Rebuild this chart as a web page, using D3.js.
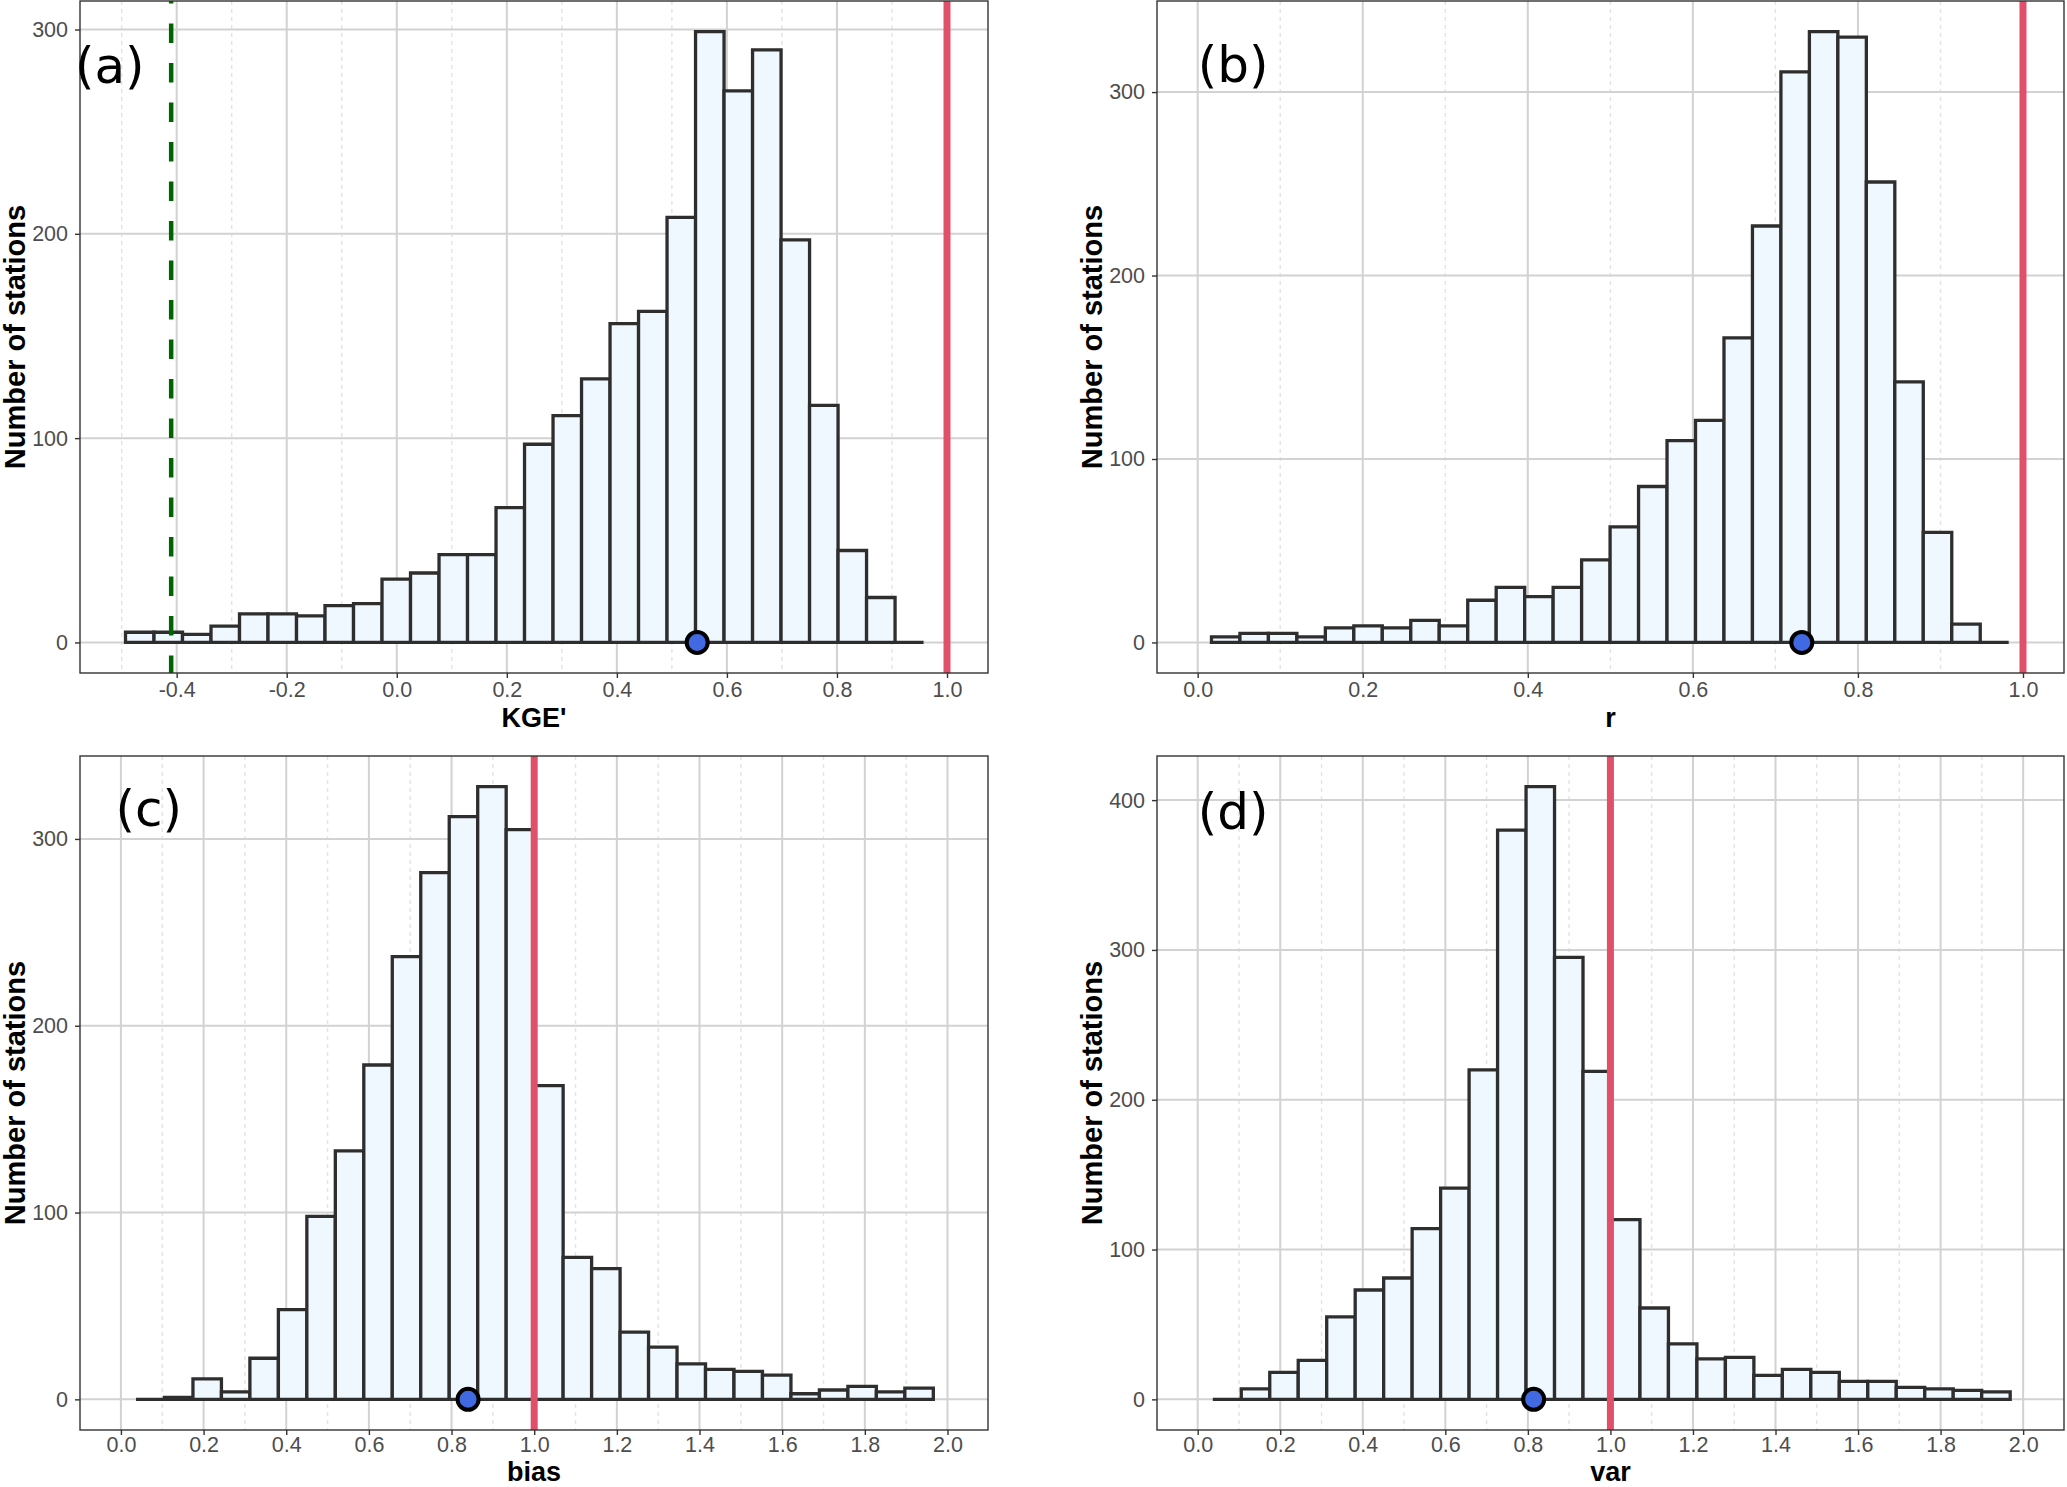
<!DOCTYPE html>
<meta charset="utf-8" />

<!-- Load d3.js -->
<script src="https://d3js.org/d3.v7.min.js"></script>
<style>
  body { margin: 0; background: #fff; }
</style>

<div id="my_dataviz"></div>

<script>
  // ---- values ----
  // histogram counts per bin, bin = [first edge, width]
  const kgeCounts = [5, 5, 4, 8, 14, 14, 13, 18, 19, 31, 34, 43, 43, 66, 97, 111, 129, 156, 162, 208, 299, 270, 290, 197, 116, 45, 22, 0];
  const kgeBin = [-0.493, 0.0518];
  const rCounts = [3, 5, 5, 3, 8, 9, 8, 12, 9, 23, 30, 25, 30, 45, 63, 85, 110, 121, 166, 227, 311, 333, 330, 251, 142, 60, 10, 0];
  const rBin = [0.0167, 0.0345];
  const biasCounts = [0, 1, 11, 4, 22, 48, 98, 133, 179, 237, 282, 312, 328, 305, 168, 76, 70, 36, 28, 19, 16, 15, 13, 3, 5, 7, 4, 6];
  const biasBin = [0.0365, 0.0689];
  const varCounts = [0, 7, 18, 26, 55, 73, 81, 114, 141, 220, 380, 409, 295, 219, 120, 61, 37, 27, 28, 16, 20, 18, 12, 12, 8, 7, 6, 5];
  const varBin = [0.0366, 0.069];

  // medians (blue dots) and reference lines
  const medians = [0.546, 0.732, 0.84, 0.814];
  const idealValue = 1.0;
  const benchmarkKge = -0.41;

  // axis titles, panel letters, ticks and limits
  const xTitles = ["KGE'", 'r', 'bias', 'var'];
  const letters = ['(a)', '(b)', '(c)', '(d)'];
  const letterPos = [[-0.585, 282], [0.0, 315], [-0.013, 316], [0.0, 392]];
  const xTicksA = [-0.4, -0.2, 0.0, 0.2, 0.4, 0.6, 0.8, 1.0];
  const xMinorA = [-0.5, -0.3, -0.1, 0.1, 0.3, 0.5, 0.7, 0.9];
  const xTicksB = [0.0, 0.2, 0.4, 0.6, 0.8, 1.0];
  const xMinorB = [0.1, 0.3, 0.5, 0.7, 0.9];
  const xTicksCD = [0.0, 0.2, 0.4, 0.6, 0.8, 1.0, 1.2, 1.4, 1.6, 1.8, 2.0];
  const xMinorCD = [0.1, 0.3, 0.5, 0.7, 0.9, 1.1, 1.3, 1.5, 1.7, 1.9];
  const yTicks = [0, 100, 200, 300];
  const yTicksD = [0, 100, 200, 300, 400];
  const xLimits = [[-0.5757, 1.0745], [-0.0493, 1.0497], [-0.099, 2.098], [-0.0986, 2.099]];
  const yLimits = [[-14.95, 313.95], [-16.65, 349.65], [-16.4, 344.4], [-20.45, 429.45]];

  const W = 2067, H = 1487;

  const svg = d3
    .select('#my_dataviz')
    .append('svg')
    .attr('width', W)
    .attr('height', H)
    .style('display', 'block')
    .style('font-family', "'Liberation Sans', Arial, sans-serif");

  // panel boxes in pixels (pad = x tick label padding, titleGap = x title baseline below panel)
  const boxes = [
    { left: 80, right: 988, top: 1, bottom: 673, pad: 4, titleGap: 54 },
    { left: 1157, right: 2064, top: 1, bottom: 673, pad: 4, titleGap: 54 },
    { left: 80, right: 988, top: 756, bottom: 1430, pad: 2, titleGap: 51 },
    { left: 1157, right: 2064, top: 756, bottom: 1430, pad: 2, titleGap: 51 }
  ];

  const panels = [
    { counts: kgeCounts, bin: kgeBin, xTicks: xTicksA, xMinor: xMinorA, yTicks: yTicks, bench: benchmarkKge },
    { counts: rCounts, bin: rBin, xTicks: xTicksB, xMinor: xMinorB, yTicks: yTicks },
    { counts: biasCounts, bin: biasBin, xTicks: xTicksCD, xMinor: xMinorCD, yTicks: yTicks },
    { counts: varCounts, bin: varBin, xTicks: xTicksCD, xMinor: xMinorCD, yTicks: yTicksD }
  ];

  panels.forEach(function (p, i) {
    const b = boxes[i];
    const g = svg.append('g');

    const x = d3.scaleLinear().domain(xLimits[i]).range([b.left, b.right]);
    const y = d3.scaleLinear().domain(yLimits[i]).range([b.bottom, b.top]);

    // minor x grid (dashed)
    g.selectAll('.minor')
      .data(p.xMinor)
      .join('line')
      .attr('x1', (d) => x(d))
      .attr('x2', (d) => x(d))
      .attr('y1', b.top)
      .attr('y2', b.bottom)
      .style('stroke', '#e3e3e3')
      .style('stroke-width', 1.4)
      .style('stroke-dasharray', '4,4');

    // major grid
    g.selectAll('.gx')
      .data(p.xTicks)
      .join('line')
      .attr('x1', (d) => x(d))
      .attr('x2', (d) => x(d))
      .attr('y1', b.top)
      .attr('y2', b.bottom)
      .style('stroke', '#d2d2d2')
      .style('stroke-width', 2);
    g.selectAll('.gy')
      .data(p.yTicks)
      .join('line')
      .attr('x1', b.left)
      .attr('x2', b.right)
      .attr('y1', (d) => y(d))
      .attr('y2', (d) => y(d))
      .style('stroke', '#d2d2d2')
      .style('stroke-width', 2);

    // histogram bars (paths so empty bins still show as a line)
    const bars = p.counts.map((c, k) => ({ x0: p.bin[0] + k * p.bin[1], x1: p.bin[0] + (k + 1) * p.bin[1], n: c }));
    g.selectAll('.bar')
      .data(bars)
      .join('path')
      .attr('d', function (d) {
        return 'M' + x(d.x0) + ',' + y(0) + 'V' + y(d.n) + 'H' + x(d.x1) + 'V' + y(0) + 'Z';
      })
      .style('fill', '#f0f8ff')
      .style('stroke', '#2e2e2e')
      .style('stroke-width', 3.3)
      .style('stroke-linejoin', 'miter');

    // perfect-score line
    g.append('line')
      .attr('x1', x(idealValue))
      .attr('x2', x(idealValue))
      .attr('y1', b.top)
      .attr('y2', b.bottom)
      .style('stroke', '#e0506a')
      .style('stroke-width', 7);

    // benchmark line (panel a only)
    if (p.bench !== undefined) {
      g.append('line')
        .attr('x1', x(p.bench))
        .attr('x2', x(p.bench))
        .attr('y1', b.top)
        .attr('y2', b.bottom)
        .style('stroke', '#006400')
        .style('stroke-width', 4.5)
        .style('stroke-dasharray', '19.5,20')
        .style('stroke-dashoffset', 17);
    }

    // median dot
    g.append('circle')
      .attr('cx', x(medians[i]))
      .attr('cy', y(0))
      .attr('r', 10.5)
      .style('fill', '#4169e1')
      .style('stroke', '#000')
      .style('stroke-width', 4);

    // panel border
    g.append('rect')
      .attr('x', b.left)
      .attr('y', b.top)
      .attr('width', b.right - b.left)
      .attr('height', b.bottom - b.top)
      .style('fill', 'none')
      .style('stroke', '#333')
      .style('stroke-width', 1.4);

    // axes
    const xAxis = g
      .append('g')
      .attr('transform', `translate(0, ${b.bottom})`)
      .call(d3.axisBottom(x).tickValues(p.xTicks).tickFormat((d) => d.toFixed(1)).tickSize(5).tickPadding(b.pad));
    const yAxis = g
      .append('g')
      .attr('transform', `translate(${b.left}, 0)`)
      .call(d3.axisLeft(y).tickValues(p.yTicks).tickFormat((d) => d).tickSize(5).tickPadding(7));
    [xAxis, yAxis].forEach(function (ax) {
      ax.select('.domain').remove();
      ax.selectAll('line').style('stroke', '#333').style('stroke-width', 1.4);
      ax.selectAll('text')
        .style('font-size', '21.5px')
        .style('font-family', "'Liberation Sans', Arial, sans-serif")
        .style('fill', '#4d4d4d');
    });

    // axis titles
    g.append('text')
      .attr('x', (b.left + b.right) / 2)
      .attr('y', b.bottom + b.titleGap)
      .attr('text-anchor', 'middle')
      .style('font-size', '27px')
      .style('font-weight', 'bold')
      .text(xTitles[i]);
    g.append('text')
      .attr('transform', `translate(${b.left - 55}, ${(b.top + b.bottom) / 2}) rotate(-90)`)
      .attr('text-anchor', 'middle')
      .style('font-size', '29px')
      .style('font-weight', 'bold')
      .text('Number of stations');

    // panel letter
    g.append('text')
      .attr('x', x(letterPos[i][0]))
      .attr('y', y(letterPos[i][1]))
      .attr('dy', '0.34em')
      .style('font-family', "'DejaVu Sans', sans-serif")
      .style('font-size', '50px')
      .text(letters[i]);
  });
</script>
